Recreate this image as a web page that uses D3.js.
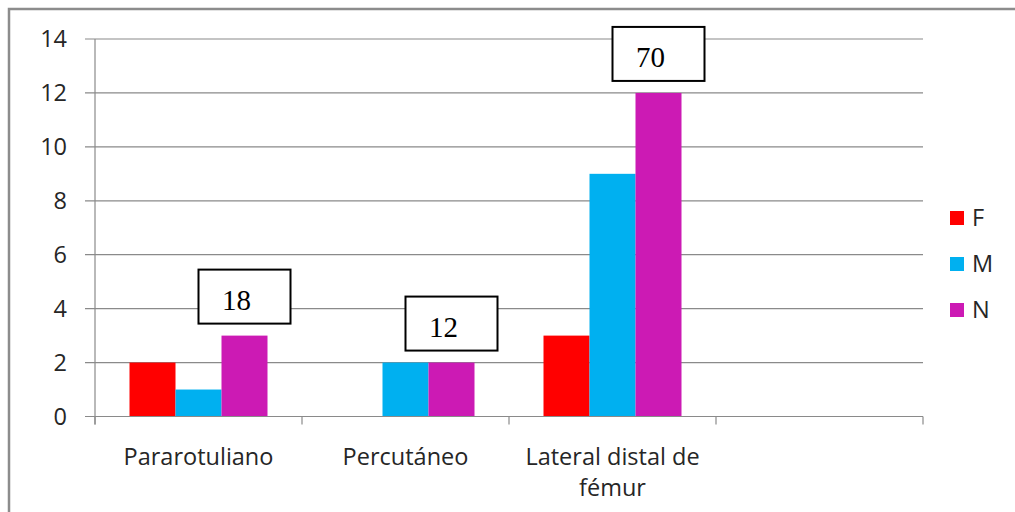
<!DOCTYPE html>
<html>
<head>
<meta charset="utf-8">
<script src="https://cdn.jsdelivr.net/npm/d3@7"></script>
<style>
  html, body { margin: 0; padding: 0; background: #fff; }
  svg { display: block; }
</style>
</head>
<body>
<svg id="chart" width="1015" height="512"></svg>
<script>
// Categories along the x axis (the fourth slot is left empty)
const categories = ["Pararotuliano", "Percutáneo", "Lateral distal de fémur", ""];
const seriesNames = ["F", "M", "N"];
const valuesF = [2, 0, 3, null];
const valuesM = [1, 2, 9, null];
const valuesN = [3, 2, 12, null];
const seriesColors = ["#FF0000", "#00B0F0", "#CC1AB4"];
const yTicks = [0, 2, 4, 6, 8, 10, 12, 14];
// Boxed totals placed above the N bar of each group
const boxLabels = ["18", "12", "70", null];

const series = [valuesF, valuesM, valuesN];

const svg = d3.select("#chart");
const W = 1015, H = 512;
const margin = { left: 95, right: W - 923, top: 39, bottom: H - 416.5 };
const sans = "'Open Sans', sans-serif";
const fs = 23.5;
const textColor = "#262626";

// outer frame
svg.append("rect")
  .attr("x", 9).attr("y", 9)
  .attr("width", W + 20).attr("height", H + 20)
  .attr("fill", "none").attr("stroke", "#8c8c8c").attr("stroke-width", 2.5);

const x = d3.scaleBand()
  .domain(categories.map((c, i) => i))
  .range([margin.left, W - margin.right])
  .paddingInner(0).paddingOuter(0);

const x1 = d3.scaleBand()
  .domain(seriesNames)
  .range([0, x.bandwidth()])
  .paddingOuter(0.75).paddingInner(0);

const y = d3.scaleLinear().domain([0, 14]).range([H - margin.bottom, margin.top]);

const gridColor = "#8a8a8a";

// gridlines
svg.append("g").selectAll("line").data(yTicks).join("line")
  .attr("x1", margin.left - 10).attr("x2", W - margin.right)
  .attr("y1", d => y(d)).attr("y2", d => y(d))
  .attr("stroke", gridColor).attr("stroke-width", 1.2);

// y axis line
svg.append("line")
  .attr("x1", margin.left).attr("x2", margin.left)
  .attr("y1", y(14)).attr("y2", y(0) + 8)
  .attr("stroke", gridColor).attr("stroke-width", 1.2);

// y tick labels
svg.append("g").selectAll("text").data(yTicks).join("text")
  .attr("x", 67).attr("y", d => y(d))
  .attr("dy", "0.36em")
  .attr("text-anchor", "end")
  .attr("font-family", sans)
  .attr("font-size", fs)
  .attr("fill", textColor)
  .text(d => d);

// bars
seriesNames.forEach((s, si) => {
  svg.append("g").selectAll("rect")
    .data(series[si].map((v, i) => ({ v, i })).filter(d => d.v))
    .join("rect")
    .attr("x", d => x(d.i) + x1(s))
    .attr("width", x1.bandwidth())
    .attr("y", d => y(d.v))
    .attr("height", d => y(0) - y(d.v))
    .attr("fill", seriesColors[si]);
});

// x axis line and category ticks
svg.append("line")
  .attr("x1", margin.left).attr("x2", W - margin.right)
  .attr("y1", y(0)).attr("y2", y(0))
  .attr("stroke", gridColor).attr("stroke-width", 1.2);
svg.append("g").selectAll("line")
  .data(d3.range(categories.length + 1))
  .join("line")
  .attr("x1", i => margin.left + i * x.bandwidth())
  .attr("x2", i => margin.left + i * x.bandwidth())
  .attr("y1", y(0)).attr("y2", y(0) + 8)
  .attr("stroke", gridColor).attr("stroke-width", 1.2);

// category labels (wrapped to band width)
const catG = svg.append("g");
categories.forEach((c, i) => {
  if (!c) return;
  const lines = c === "Lateral distal de fémur" ? ["Lateral distal de", "fémur"] : [c];
  const t = catG.append("text")
    .attr("text-anchor", "middle")
    .attr("font-family", sans)
    .attr("font-size", fs)
    .attr("fill", textColor);
  lines.forEach((ln, li) => {
    t.append("tspan")
      .attr("x", x(i) + x.bandwidth() / 2)
      .attr("y", 465 + li * 31)
      .text(ln);
  });
});

// boxed totals
const boxW = 92, boxH = 54;
boxLabels.forEach((lab, i) => {
  if (!lab) return;
  const cx = x(i) + x1("N") + x1.bandwidth() / 2;
  const bottom = y(valuesN[i]) - 12;
  svg.append("rect")
    .attr("x", cx - boxW / 2).attr("y", bottom - boxH)
    .attr("width", boxW).attr("height", boxH)
    .attr("fill", "#fff").attr("stroke", "#000").attr("stroke-width", 2);
  svg.append("text")
    .attr("x", cx - 8).attr("y", bottom - 14)
    .attr("text-anchor", "middle")
    .attr("font-family", "'Liberation Serif', 'Times New Roman', serif")
    .attr("font-size", 29)
    .attr("fill", "#000")
    .text(lab);
});

// legend
const lg = svg.append("g");
seriesNames.forEach((s, si) => {
  const yy = 211 + si * 46;
  lg.append("rect").attr("x", 950).attr("y", yy)
    .attr("width", 14).attr("height", 14).attr("fill", seriesColors[si]);
  lg.append("text").attr("x", 972).attr("y", yy + 7)
    .attr("dy", "0.36em")
    .attr("font-family", sans)
    .attr("font-size", fs)
    .attr("fill", textColor)
    .text(s);
});
</script>
</body>
</html>
